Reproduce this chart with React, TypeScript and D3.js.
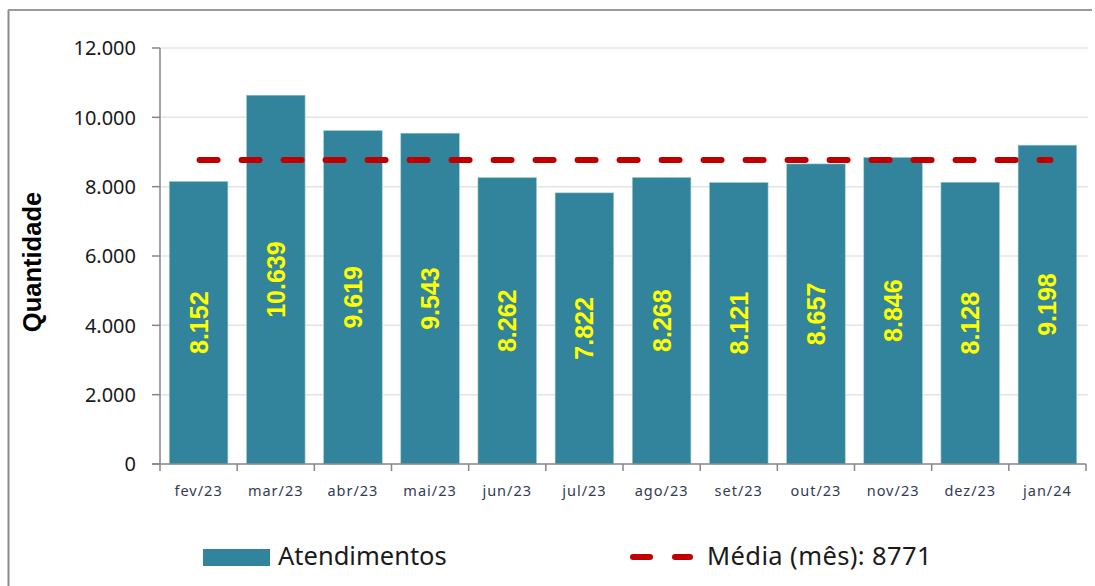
import React from "react";
import * as d3 from "d3";

const categories = ["fev/23","mar/23","abr/23","mai/23","jun/23","jul/23","ago/23","set/23","out/23","nov/23","dez/23","jan/24"];
const atendimentos = [8152,10639,9619,9543,8262,7822,8268,8121,8657,8846,8128,9198];
const media = 8771;
const yTicks = [0,2000,4000,6000,8000,10000,12000];

const W = 1095, H = 586;
const fmt = (v: number) => d3.format(",")(v).replace(/,/g, ".");

export default function App() {
  const x = d3.scaleBand<string>().domain(categories).range([160, 1086]).paddingInner(0.24).paddingOuter(0.12);
  const y = d3.scaleLinear().domain([0, 12000]).range([464, 48]);
  const barColor = "#31849B";
  const cx0 = x(categories[0])! + x.bandwidth() / 2;
  const cx1 = x(categories[categories.length - 1])! + x.bandwidth() / 2;
  const step = (1086 - 160) / categories.length;
  return (
    <svg width={W} height={H} style={{ position: "absolute", left: 0, top: 0, background: "#fff" }}>
      <rect x={0} y={0} width={W} height={H} fill="#fff" />
      {/* frame */}
      <line x1={8.5} y1={10} x2={8.5} y2={H} stroke="#8c8c8c" strokeWidth={2} />
      <line x1={8} y1={10} x2={1092} y2={10} stroke="#9a9a9a" strokeWidth={2} />
      {/* grid */}
      {yTicks.filter(t => t > 0).map(t => (
        <line key={t} x1={160} x2={1088} y1={y(t)} y2={y(t)} stroke="#e4e4e4" strokeWidth={1.5} />
      ))}
      {/* bars */}
      {atendimentos.map((v, i) => (
        <rect key={i} x={x(categories[i])} y={y(v)} width={x.bandwidth()} height={y(0) - y(v)}
          fill={barColor} stroke="#a9cfd8" strokeWidth={0.6} />
      ))}
      {/* y axis */}
      <line x1={160} x2={160} y1={48} y2={464} stroke="#868686" strokeWidth={1.5} />
      {yTicks.map(t => (
        <g key={t}>
          <line x1={152} x2={160} y1={y(t)} y2={y(t)} stroke="#868686" strokeWidth={1.5} />
          <text x={136} y={y(t)} dy="0.36em" textAnchor="end" fontFamily="'Noto Sans', sans-serif" fontSize={20} fill="#1a1a1a">{fmt(t)}</text>
        </g>
      ))}
      {/* x axis */}
      <line x1={152} x2={1086} y1={464} y2={464} stroke="#868686" strokeWidth={1.5} />
      {d3.range(categories.length + 1).map(i => (
        <line key={i} x1={160 + i * step} x2={160 + i * step} y1={464} y2={471} stroke="#868686" strokeWidth={1.5} />
      ))}
      {categories.map(c => (
        <text key={c} x={x(c)! + x.bandwidth() / 2} y={496} textAnchor="middle" fontFamily="'Noto Sans', sans-serif" fontSize={14.5} letterSpacing={1} fill="#333a55">{c}</text>
      ))}
      {/* mean line */}
      <line x1={cx0 - 2} x2={cx1 + 3} y1={y(media)} y2={y(media)} stroke="#C00000" strokeWidth={6} strokeDasharray="18 24" strokeLinecap="round" strokeDashoffset={-3} />
      {/* bar labels */}
      {atendimentos.map((v, i) => {
        const cx = x(categories[i])! + x.bandwidth() / 2;
        const cy = (y(v) + y(0)) / 2;
        return (
          <text key={i} transform={`translate(${cx},${cy}) rotate(-90)`} textAnchor="middle" dy="0.36em"
            fontFamily="'Liberation Sans Narrow', 'Liberation Sans', sans-serif" fontWeight="bold" fontSize={25} fill="#ffff00">{fmt(v)}</text>
        );
      })}
      {/* y title */}
      <text transform={`translate(41,262) rotate(-90)`} textAnchor="middle" fontFamily="'Liberation Sans', Arial, sans-serif" fontWeight="bold" fontSize={25.5} fill="#000">Quantidade</text>
      {/* legend */}
      <rect x={203} y={549} width={67} height={17} fill={barColor} />
      <text x={278} y={565} fontFamily="'Noto Sans', sans-serif" fontSize={25.5} fill="#1a1a1a">Atendimentos</text>
      <line x1={633} x2={650} y1={557} y2={557} stroke="#C00000" strokeWidth={6} strokeLinecap="round" />
      <line x1={675} x2={690} y1={557} y2={557} stroke="#C00000" strokeWidth={6} strokeLinecap="round" />
      <text x={707} y={565} fontFamily="'Noto Sans', sans-serif" fontSize={25.5} letterSpacing={0.4} fill="#1a1a1a">Média (mês): 8771</text>
    </svg>
  );
}
